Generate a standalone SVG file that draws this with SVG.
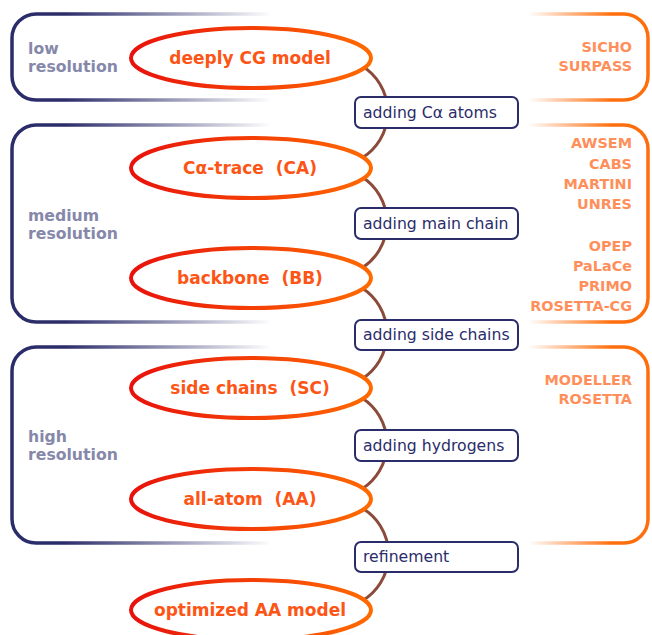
<svg xmlns="http://www.w3.org/2000/svg" width="652" height="635" viewBox="0 0 652 635">
<defs>
<linearGradient id="navyFade" gradientUnits="userSpaceOnUse" x1="12" y1="0" x2="272" y2="0">
<stop offset="0" stop-color="#2b2c6a"/>
<stop offset="0.2" stop-color="#2b2c6a"/>
<stop offset="1" stop-color="#2b2c6a" stop-opacity="0"/>
</linearGradient>
<linearGradient id="orangeFade" gradientUnits="userSpaceOnUse" x1="648" y1="0" x2="528" y2="0">
<stop offset="0" stop-color="#ff6e0c"/>
<stop offset="0.3" stop-color="#ff6e0c"/>
<stop offset="1" stop-color="#ff6e0c" stop-opacity="0"/>
</linearGradient>
<linearGradient id="ellGrad" x1="0" y1="0" x2="1" y2="0">
<stop offset="0" stop-color="#e8120c"/>
<stop offset="1" stop-color="#ff6a00"/>
</linearGradient>
</defs>
<style>
.lbox{fill:none;stroke:url(#navyFade);stroke-width:3.5}
.rbox{fill:none;stroke:url(#orangeFade);stroke-width:3.5}
.ell{fill:#ffffff;stroke:url(#ellGrad);stroke-width:4}
.conn{fill:none;stroke:#8c4a3a;stroke-width:3}
.step{fill:#ffffff;stroke:#2b2c6a;stroke-width:2}
.etext{font-family:"DejaVu Sans",Verdana,sans-serif;font-weight:bold;font-size:17px;fill:#fc5516;text-anchor:middle;white-space:pre}
.stext{font-family:"DejaVu Sans",Verdana,sans-serif;font-size:15.7px;fill:#2b2c6a}
.restext{font-family:"DejaVu Sans",Verdana,sans-serif;font-weight:bold;font-size:15.7px;fill:#8688aa}
.tool{font-family:"DejaVu Sans",Verdana,sans-serif;font-weight:bold;font-size:14.4px;fill:#ff8f5a;text-anchor:end}
</style>

<g id="res-low">
<path class="lbox" d="M272 14 H36 A24 24 0 0 0 12 38 V76 A24 24 0 0 0 36 100 H272"/>
<text class="restext" x="28" y="54">low</text>
<text class="restext" x="28" y="72">resolution</text>
</g>
<g id="res-medium">
<path class="lbox" d="M272 125 H36 A24 24 0 0 0 12 149 V298 A24 24 0 0 0 36 322 H272"/>
<text class="restext" x="28" y="221">medium</text>
<text class="restext" x="28" y="239">resolution</text>
</g>
<g id="res-high">
<path class="lbox" d="M272 347 H36 A24 24 0 0 0 12 371 V519 A24 24 0 0 0 36 543 H272"/>
<text class="restext" x="28" y="442">high</text>
<text class="restext" x="28" y="460">resolution</text>
</g>

<g id="tools-low">
<path class="rbox" d="M528 14 H624 A24 24 0 0 1 648 38 V76 A24 24 0 0 1 624 100 H528"/>
<text class="tool" x="632" y="52">SICHO</text>
<text class="tool" x="632" y="71">SURPASS</text>
</g>
<g id="tools-medium">
<path class="rbox" d="M528 125 H624 A24 24 0 0 1 648 149 V298 A24 24 0 0 1 624 322 H528"/>
<text class="tool" x="632" y="148">AWSEM</text>
<text class="tool" x="632" y="169">CABS</text>
<text class="tool" x="632" y="189">MARTINI</text>
<text class="tool" x="632" y="209">UNRES</text>
<text class="tool" x="632" y="251">OPEP</text>
<text class="tool" x="632" y="271">PaLaCe</text>
<text class="tool" x="632" y="291">PRIMO</text>
<text class="tool" x="632" y="311">ROSETTA-CG</text>
</g>
<g id="tools-high">
<path class="rbox" d="M528 347 H624 A24 24 0 0 1 648 371 V519 A24 24 0 0 1 624 543 H528"/>
<text class="tool" x="632" y="385">MODELLER</text>
<text class="tool" x="632" y="404">ROSETTA</text>
</g>

<g id="connectors">
<path class="conn" d="M362 66 A54 54 0 0 1 362 158"/>
<path class="conn" d="M362 177 A54 54 0 0 1 362 268"/>
<path class="conn" d="M362 288 A54 54 0 0 1 362 379"/>
<path class="conn" d="M362 398 A54 54 0 0 1 362 489"/>
<path class="conn" d="M362 508 A54 54 0 0 1 362 601"/>
</g>

<g id="n-deeply-cg">
<ellipse class="ell" cx="251" cy="58" rx="120" ry="30"/>
<text class="etext" x="250" y="64">deeply CG model</text>
</g>
<g id="n-ca-trace">
<ellipse class="ell" cx="251" cy="168" rx="120" ry="30"/>
<text class="etext" x="250" y="174">Cα-trace  (CA)</text>
</g>
<g id="n-backbone">
<ellipse class="ell" cx="251" cy="278" rx="120" ry="30"/>
<text class="etext" x="250" y="284">backbone  (BB)</text>
</g>
<g id="n-side-chains">
<ellipse class="ell" cx="251" cy="388" rx="120" ry="30"/>
<text class="etext" x="250" y="394">side chains  (SC)</text>
</g>
<g id="n-all-atom">
<ellipse class="ell" cx="251" cy="499" rx="120" ry="30"/>
<text class="etext" x="250" y="505">all-atom  (AA)</text>
</g>
<g id="n-optimized">
<ellipse class="ell" cx="251" cy="610" rx="120" ry="30"/>
<text class="etext" x="250" y="616">optimized AA model</text>
</g>

<g id="s-ca-atoms">
<rect class="step" x="355" y="97" width="163" height="31" rx="6"/>
<text class="stext" x="363" y="118">adding Cα atoms</text>
</g>
<g id="s-main-chain">
<rect class="step" x="355" y="208" width="163" height="31" rx="6"/>
<text class="stext" x="363" y="229">adding main chain</text>
</g>
<g id="s-side-chains">
<rect class="step" x="355" y="320" width="163" height="30" rx="6"/>
<text class="stext" x="363" y="340">adding side chains</text>
</g>
<g id="s-hydrogens">
<rect class="step" x="355" y="430" width="163" height="31" rx="6"/>
<text class="stext" x="363" y="451">adding hydrogens</text>
</g>
<g id="s-refinement">
<rect class="step" x="355" y="542" width="163" height="30" rx="6"/>
<text class="stext" x="363" y="562">refinement</text>
</g>
</svg>
